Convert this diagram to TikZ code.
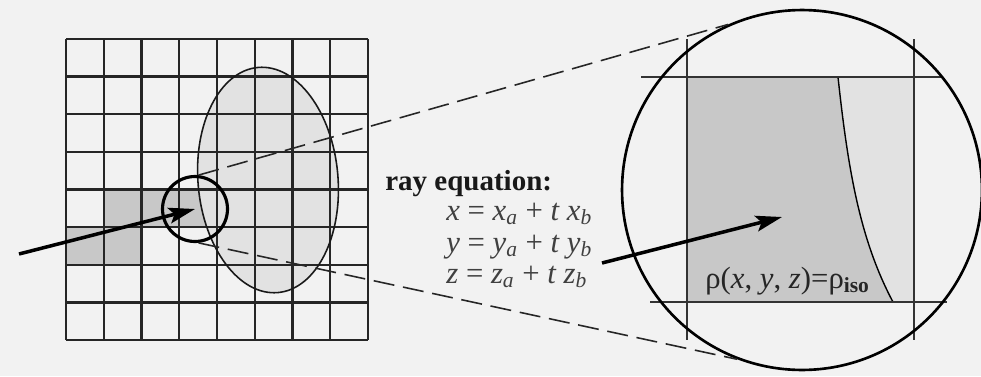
\documentclass[tikz,border=0pt]{standalone}
\usepackage{fontspec}
\setmainfont{Liberation Serif}
\usetikzlibrary{arrows.meta}
\definecolor{bggray}{HTML}{F2F2F2}
\definecolor{voxgray}{HTML}{C8C8C8}
\definecolor{isogray}{HTML}{E2E2E2}
\tikzset{
  gridline/.style={black!85,line width=1.3pt},
  fineline/.style={black!80,line width=0.85pt},
  isofill/.style={fill=isogray},
  voxfill/.style={fill=voxgray},
  lensring/.style={circle,draw=black,line width=1.8pt,minimum size=1.3cm,inner sep=0pt},
  zoomring/.style={circle,draw=black,line width=1.5pt,minimum size=7.2cm,inner sep=0pt},
  raypath/.style={-{Stealth[length=15pt,width=9pt,inset=3pt]},line width=2pt,black},
  zoomedge/.style={black!85,line width=0.9pt,dash pattern=on 12pt off 5pt},
  hdtext/.style={font=\fontsize{16.5}{20}\selectfont\bfseries,text=black!90,inner sep=0pt,anchor=base west},
  eqtext/.style={font=\fontsize{17.5}{21}\selectfont,text=black!75,inner sep=0pt,anchor=base west},
}

\begin{document}
\begin{tikzpicture}[x=0.02cm,y=-0.02cm]
  \fill[bggray] (0,0) rectangle (981,376);
  \useasboundingbox (0,0) rectangle (981,376);
  % voxel grid and the object
  \fill[voxfill] (104,190) rectangle (217,228);
  \fill[voxfill] (66,228) rectangle (142,265);
  \fill[isofill,shift={(268,180)},rotate=5] (0,0) ellipse (70 and 113);
  \foreach \i in {0,...,8} {
    \draw[gridline] (66+37.75*\i,39) -- (66+37.75*\i,340);
    \draw[gridline] (66,39+37.625*\i) -- (368,39+37.625*\i);
  }
  \draw[black!90,line width=0.9pt,shift={(268,180)},rotate=5] (0,0) ellipse (70 and 113);
  % magnified voxel
  \fill[voxfill] (687,77) rectangle (914,302);
  \fill[isofill] (838,77) .. controls (848,170) and (860,240) .. (893,302) -- (914,302) -- (914,77) -- cycle;
  \draw[black,line width=0.8pt] (838,77) .. controls (848,170) and (860,240) .. (893,302);
  \draw[fineline] (687,39) -- (687,340);
  \draw[fineline] (914,39) -- (914,340);
  \draw[fineline] (641,77) -- (943,77);
  \draw[fineline] (650,302) -- (947,302);

  \node[lensring] (lens) at (195,209) {};
  \node[zoomring] (zoom) at (802,190) {};
  \coordinate (eye) at (19,254);
  \coordinate (raystart) at (602,263);
  \coordinate (hit) at (782,217);
  \draw[zoomedge] (lens.84) -- (zoom.114);
  \draw[zoomedge] (lens.276) -- (zoom.249);
  \draw[raypath] (eye) -- (lens.center);
  \draw[raypath] (raystart) -- (hit);

  \node[hdtext] (eqhead) at (385,190) {ray equation:};
  \node[eqtext] (eqx) at (446,220) {\textit{x} = \textit{x}\textsubscript{\textit{a}} + \textit{t x}\textsubscript{\textit{b}}};
  \node[eqtext] (eqy) at (446,252) {\textit{y} = \textit{y}\textsubscript{\textit{a}} + \textit{t y}\textsubscript{\textit{b}}};
  \node[eqtext] (eqz) at (446,283) {\textit{z} = \textit{z}\textsubscript{\textit{a}} + \textit{t z}\textsubscript{\textit{b}}};
  \node[eqtext,text=black!85] (isolbl) at (705,288) {ρ(\textit{x}, \textit{y}, \textit{z})=ρ\textsubscript{\textbf{iso}}};
\end{tikzpicture}
\end{document}
